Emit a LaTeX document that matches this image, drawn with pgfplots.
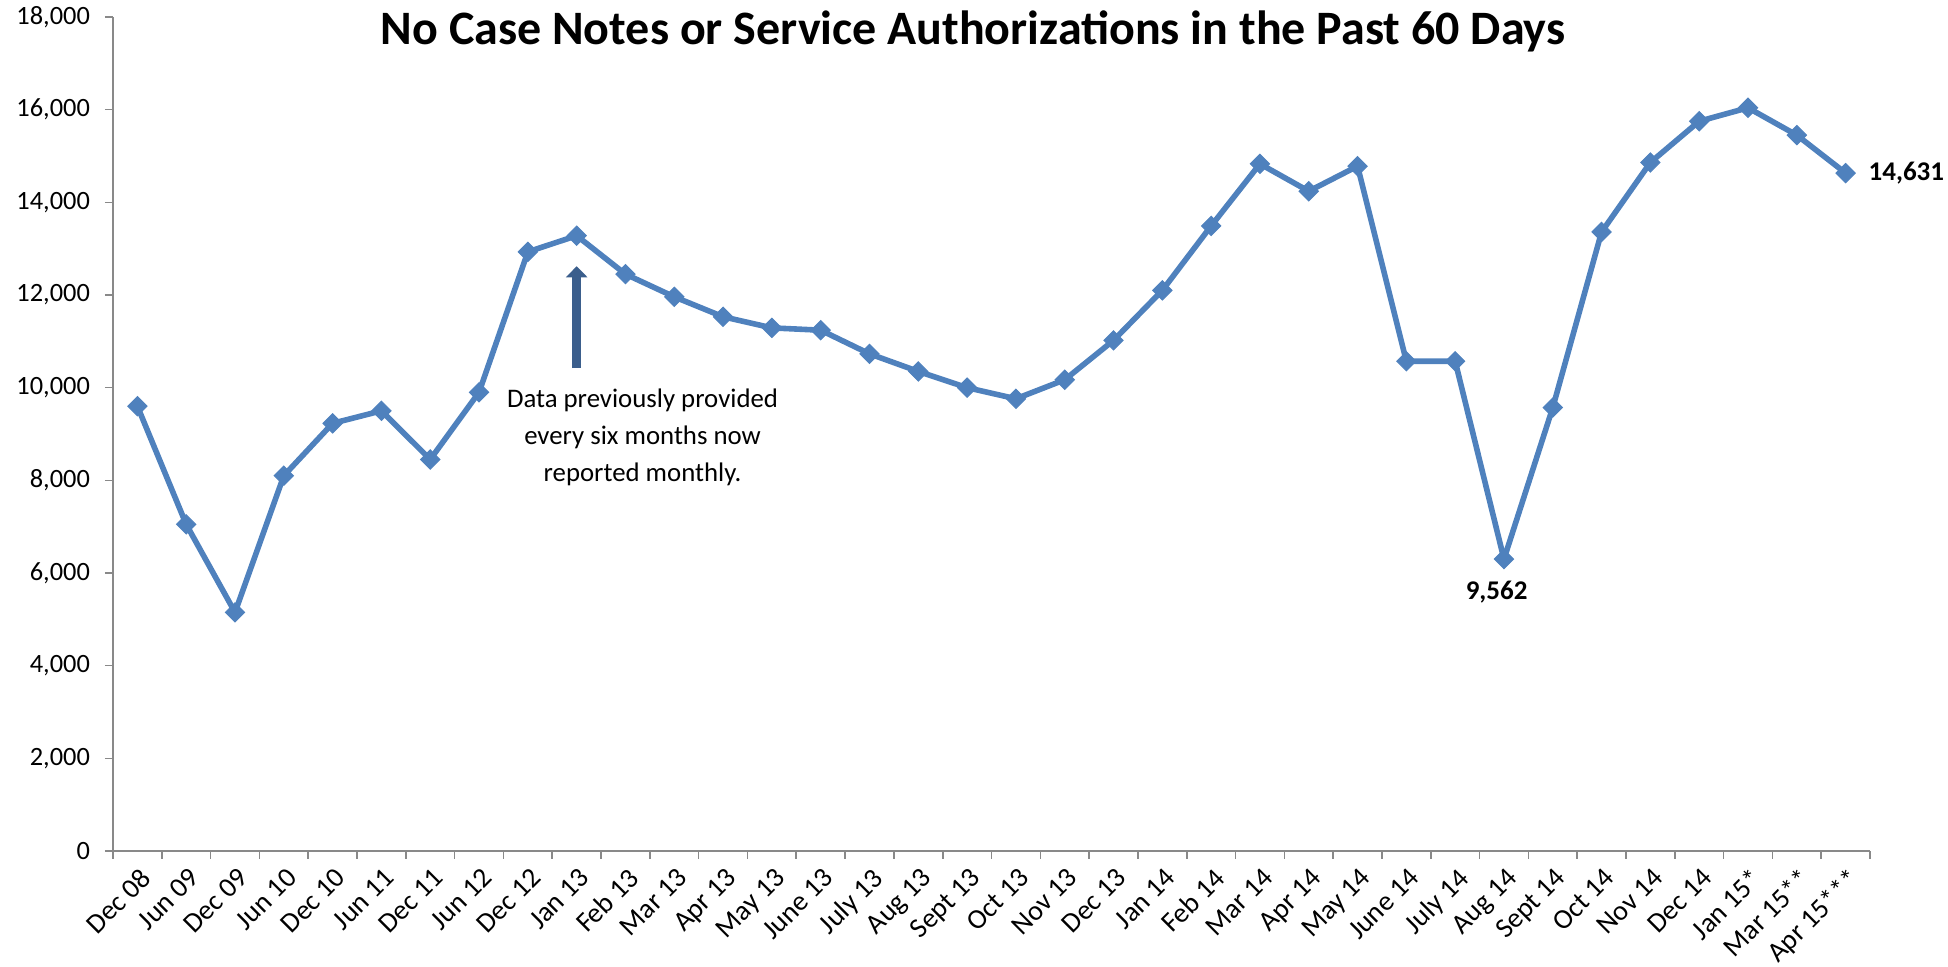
\documentclass[border=0pt]{standalone}
\usepackage{fontspec}
\setmainfont{Carlito}
\usepackage{pgfplots}
\pgfplotsset{compat=1.18}
\usetikzlibrary{arrows.meta}

\definecolor{xlblue}{HTML}{4F81BD}
\definecolor{arrowblue}{HTML}{3B5E8C}
\definecolor{axisgray}{HTML}{898989}

\begin{document}
\begin{tikzpicture}
\begin{axis}[
    scale only axis,
    width=878.5pt, height=417pt,
    xmin=-0.5, xmax=35.5,
    ymin=0, ymax=18000,
    axis x line*=bottom, axis y line*=left,
    axis line style={axisgray, line width=0.8pt},
    tick align=outside,
    xtick={0,...,35},
    xticklabels={Dec 08,Jun 09,Dec 09,Jun 10,Dec 10,Jun 11,Dec 11,Jun 12,Dec 12,Jan 13,Feb 13,Mar 13,Apr 13,May 13,June 13,July 13,Aug 13,Sept 13,Oct 13,Nov 13,Dec 13,Jan 14,Feb 14,Mar 14,Apr 14,May 14,June 14,July 14,Aug 14,Sept 14,Oct 14,Nov 14,Dec 14,Jan 15*,Mar 15**,Apr 15***},
    major x tick style={draw=none},
    minor xtick={-0.5,0.5,...,35.5},
    minor tick length=4pt,
    minor x tick style={axisgray, line width=0.8pt},
    ytick={0,2000,...,18000},
    major tick length=4pt,
    major y tick style={axisgray, line width=0.8pt},
    /pgf/number format/1000 sep={,},
    /pgf/number format/assume math mode=true,
    scaled y ticks=false,
    ticklabel style={text=black},
    yticklabel style={font=\fontsize{13.2}{15}\selectfont, xshift=-4pt},
    xticklabel style={font=\fontsize{14}{16}\selectfont, rotate=45, anchor=north east, inner sep=1pt, yshift=-2pt, xshift=-1pt},
    clip=false,
]
\addplot[xlblue, line width=2.8pt, mark=square*, mark size=3.4pt,
    mark options={rotate=45, solid, fill=xlblue, draw=xlblue, line width=0.5pt}]
coordinates {
 (0,9600) (1,7050) (2,5150) (3,8100) (4,9230) (5,9500) (6,8450) (7,9900)
 (8,12930) (9,13280) (10,12450) (11,11960) (12,11530) (13,11290) (14,11240)
 (15,10730) (16,10350) (17,10000) (18,9760) (19,10170) (20,11020) (21,12100)
 (22,13490) (23,14830) (24,14240) (25,14780) (26,10570) (27,10570) (28,6300)
 (29,9570) (30,13360) (31,14860) (32,15750) (33,16040) (34,15450) (35,14631)
};
\coordinate (ll) at (rel axis cs:0,0);
\draw[arrowblue, line width=4.8pt, -{Triangle[width=10.5pt, length=5.5pt]}]
    (axis cs:9,10420) -- (axis cs:9,12620);
\node[align=center, font=\fontsize{13.4}{18.6}\selectfont]
    at (axis cs:10.35,8930) {Data previously provided\\every six months now\\reported monthly.};
\node[font=\fontsize{13.5}{15}\selectfont\bfseries] at (axis cs:27.85,5580) {9,562};
\node[anchor=west, font=\fontsize{13.5}{15}\selectfont\bfseries, xshift=8pt] at (axis cs:35,14631) {14,631};
\node[font=\fontsize{24}{26}\selectfont\bfseries] at (rel axis cs:0.4895,1) [yshift=-7pt]
    {No Case Notes or Service Authorizations in the Past 60 Days};
\end{axis}
\pgfresetboundingbox
\path[use as bounding box] ([shift={(-56.5pt,-58pt)}]ll) rectangle ([shift={(917.5pt,425.5pt)}]ll);
\end{tikzpicture}
\end{document}
